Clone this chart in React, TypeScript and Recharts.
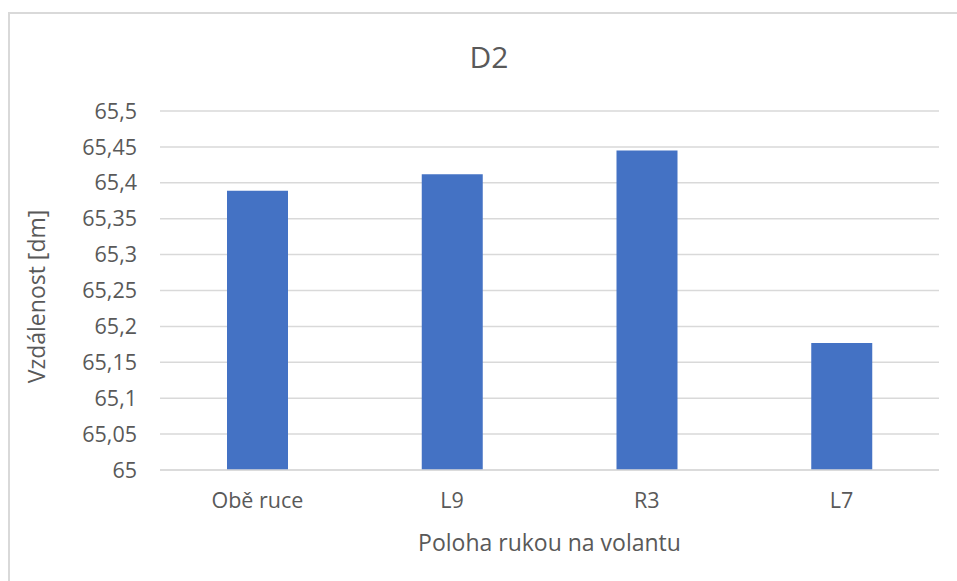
import { Bar, BarChart, CartesianGrid, XAxis, YAxis, Label } from "recharts"

const categories = ["Obě ruce", "L9", "R3", "L7"]
const distances = [65.389, 65.412, 65.445, 65.177]
const yTicks = [65, 65.05, 65.1, 65.15, 65.2, 65.25, 65.3, 65.35, 65.4, 65.45, 65.5]

const chartTitle = "D2"
const xTitle = "Poloha rukou na volantu"
const yTitle = "Vzdálenost [dm]"

const FONT = "'Open Sans', 'Noto Sans', sans-serif"
const TEXT = "#595959"
const GRID = "#d9d9d9"

const chartData = categories.map((name, i) => ({ name, value: distances[i] }))

// Czech decimal comma
const fmt = (v: number) => String(v).replace(".", ",")

export default function App() {
  return (
    <div style={{ position: "absolute", left: 0, top: 0, width: 957, height: 581, overflow: "hidden", background: "#fff", fontFamily: FONT }}>
      <div style={{ position: "absolute", left: 8, top: 12, width: 2000, height: 2000, border: `2px solid ${GRID}`, boxSizing: "border-box" }} />
      <div style={{ position: "absolute", left: 0, width: 978, top: 38, textAlign: "center", fontSize: 30, color: TEXT, lineHeight: "38px" }}>
        {chartTitle}
      </div>
      <BarChart
        width={957}
        height={581}
        data={chartData}
        margin={{ top: 111, right: 18, bottom: 51, left: 0 }}
        barSize={61}
        style={{ position: "absolute", left: 0, top: 0 }}
      >
        <CartesianGrid vertical={false} stroke={GRID} strokeWidth={1.5} />
        <XAxis
          dataKey="name"
          height={60}
          axisLine={{ stroke: GRID, strokeWidth: 1.5 }}
          tickLine={false}
          tickSize={0}
          tickMargin={23}
          tick={{ fontSize: 21.5, fill: TEXT, fontFamily: FONT }}
        >
          <Label
            content={({ viewBox }: any) => (
              <text
                x={viewBox.x + viewBox.width / 2}
                y={viewBox.y + 81}
                textAnchor="middle"
                fontSize={23}
                fill={TEXT}
                fontFamily={FONT}
              >
                {xTitle}
              </text>
            )}
          />
        </XAxis>
        <YAxis
          width={160}
          domain={[65, 65.5]}
          ticks={yTicks}
          allowDataOverflow
          axisLine={false}
          tickLine={false}
          tickSize={0}
          tickMargin={23}
          tickFormatter={fmt}
          tick={{ fontSize: 21.5, fill: TEXT, fontFamily: FONT }}
        >
          <Label
            content={({ viewBox }: any) => {
              const cx = 36
              const cy = viewBox.y + viewBox.height / 2 + 6
              return (
                <text
                  x={cx}
                  y={cy}
                  transform={`rotate(-90, ${cx}, ${cy})`}
                  textAnchor="middle"
                  dominantBaseline="central"
                  fontSize={23}
                  fill={TEXT}
                  fontFamily={FONT}
                >
                  {yTitle}
                </text>
              )
            }}
          />
        </YAxis>
        <Bar dataKey="value" fill="#4472c4" isAnimationActive={false} />
      </BarChart>
    </div>
  )
}
